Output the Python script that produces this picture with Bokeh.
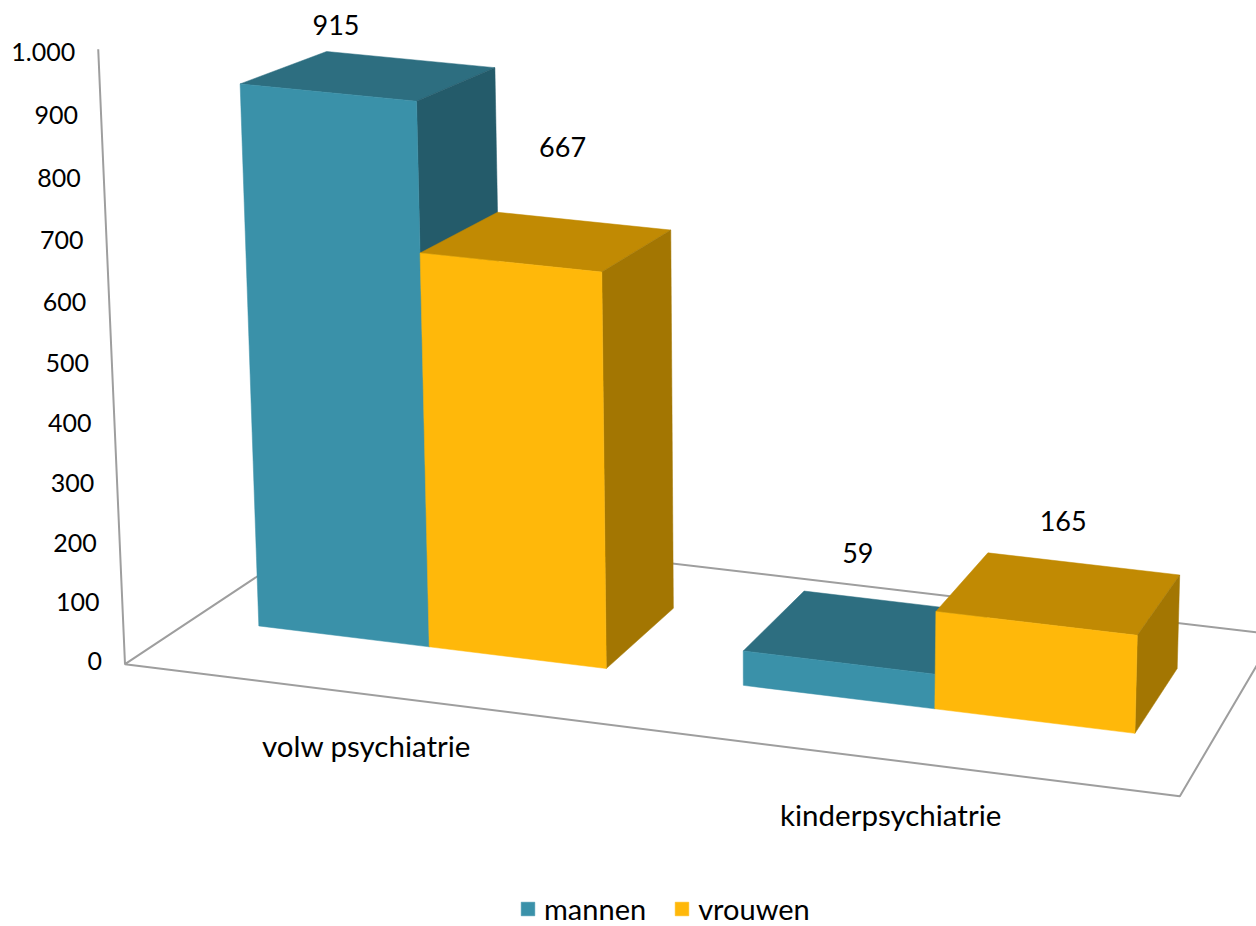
import numpy as np
from bokeh.plotting import figure
from bokeh.models import ColumnDataSource, Legend, LegendItem
from bokeh.core.properties import value
from bokeh.embed import file_html
from bokeh.resources import INLINE

categories = ["volw psychiatrie", "kinderpsychiatrie"]
mannen = [915, 59]
vrouwen = [667, 165]
y_ticks = [0, 100, 200, 300, 400, 500, 600, 700, 800, 900, 1000]
y_tick_labels = ["0", "100", "200", "300", "400", "500", "600", "700", "800", "900", "1.000"]
Y_MAX = 1000

FONT = "Lato"
C_M = ("#3A91A9", "#2D6E80", "#245B6A")   # front, top, side
C_V = ("#FFB80A", "#C18A03", "#A37602")
FRAME = "#9E9E9E"

# Camera of the 3D chart: world (x along categories 0..1, value, depth 0..1) -> page pixels
P = np.array([[1000.36192588847, -0.03064626431109454, 254.268040932062, 124.50362603419711],
              [95.22053283761971, -0.6169091804568438, -73.04344560622766, 663.6897546458559],
              [-0.04619675771294551, -3.951264035095131e-05, 0.12821427019546616, 1.0]])


def proj(x, y, z):
    h = P @ np.array([x, y, z, 1.0])
    return float(h[0] / h[2]), float(h[1] / h[2])


def quad(*pts):
    q = [proj(*p) for p in pts]
    return [a for a, _ in q], [b for _, b in q]


Z0, Z1 = 0.303, 0.71
edges_m = [(0.066, 0.239), (0.551, 0.737)]
edges_v = [(0.239, 0.416), (0.737, 0.928)]

p = figure(width=1256, height=926, x_range=(0, 1256), y_range=(926, 0),
           output_backend="svg", toolbar_location=None, min_border=0,
           x_axis_type=None, y_axis_type=None, outline_line_color=None)
p.grid.visible = False

# frame: value axis and floor outline
corners = [(0, Y_MAX, 0), (0, 0, 0), (1, 0, 0), (1, 0, 1), (0, 0, 1), (0, 0, 0)]
fx, fy = quad(*corners)
p.line(fx, fy, line_color=FRAME, line_width=2)


def bars(vals, edges, cols):
    front, top, side = {"xs": [], "ys": []}, {"xs": [], "ys": []}, {"xs": [], "ys": []}
    for v, (a, b) in zip(vals, edges):
        for d, pts in ((front, [(a, 0, Z0), (b, 0, Z0), (b, v, Z0), (a, v, Z0)]),
                       (top, [(a, v, Z0), (b, v, Z0), (b, v, Z1), (a, v, Z1)]),
                       (side, [(b, 0, Z0), (b, 0, Z1), (b, v, Z1), (b, v, Z0)])):
            xs, ys = quad(*pts)
            d["xs"].append(xs)
            d["ys"].append(ys)
    p.patches("xs", "ys", source=ColumnDataSource(top), fill_color=cols[1], line_color=cols[1], line_width=0.5)
    p.patches("xs", "ys", source=ColumnDataSource(side), fill_color=cols[2], line_color=cols[2], line_width=0.5)
    return p.patches("xs", "ys", source=ColumnDataSource(front), fill_color=cols[0], line_color=cols[0], line_width=0.5)


r_m = bars(mannen, edges_m, C_M)
r_v = bars(vrouwen, edges_v, C_V)

# value tick labels (sit a little tighter than the axis itself: -4px at 0, +3px at the top)
tx, ty = zip(*[proj(0, t, 0) for t in y_ticks])
tick_dy = [-3.5 + 0.0065 * t for t in y_ticks]
p.text(x="x", y="y", text="t", y_offset="dy", x_offset=-23,
       source=ColumnDataSource(dict(x=list(tx), y=list(ty), t=y_tick_labels, dy=tick_dy)),
       text_align="right", text_baseline="middle",
       text_font=value(FONT), text_font_size="25px", text_color="black")

# data labels: offset in pixels from the top front edge's centre
lab_off = [(8, -68), (52, -115), (19, -110), (27, -102)]
lab = [(proj((a + b) / 2, v, Z0), str(v)) for v, (a, b) in zip(mannen + vrouwen, edges_m + edges_v)]
order = [0, 2, 1, 3]
lx, ly, lt, ox, oy = [], [], [], [], []
for i, off in zip(order, lab_off):
    (x, y), t = lab[i]
    lx.append(x); ly.append(y); lt.append(t); ox.append(off[0]); oy.append(off[1])
p.text(x="x", y="y", text="t", x_offset="ox", y_offset="oy",
       source=ColumnDataSource(dict(x=lx, y=ly, t=lt, ox=ox, oy=oy)),
       text_align="center", text_baseline="middle", text_font=value(FONT), text_font_size="27px", text_color="black")

# category labels
cx, cy = zip(*[proj(c, 0, 0) for c in (0.25, 0.75)])
p.text(x="x", y="y", text="t", x_offset="ox", y_offset="oy",
       source=ColumnDataSource(dict(x=list(cx), y=list(cy), t=categories, ox=[-13, -16], oy=[49, 53])),
       text_align="center", text_baseline="middle",
       text_font=value(FONT), text_font_size="29.5px", text_color="black")

legend = Legend(items=[LegendItem(label="mannen", renderers=[r_m]), LegendItem(label="vrouwen", renderers=[r_v])],
                orientation="horizontal", location=(519, 0), glyph_width=17, glyph_height=17,
                label_standoff=8, spacing=27, padding=0, margin=0, border_line_color=None,
                background_fill_alpha=0, label_text_font=FONT, label_text_font_size="29px",
                label_text_color="black", label_height=20)
p.add_layout(legend, "center")

open("out.html", "w").write(file_html(p, INLINE))
